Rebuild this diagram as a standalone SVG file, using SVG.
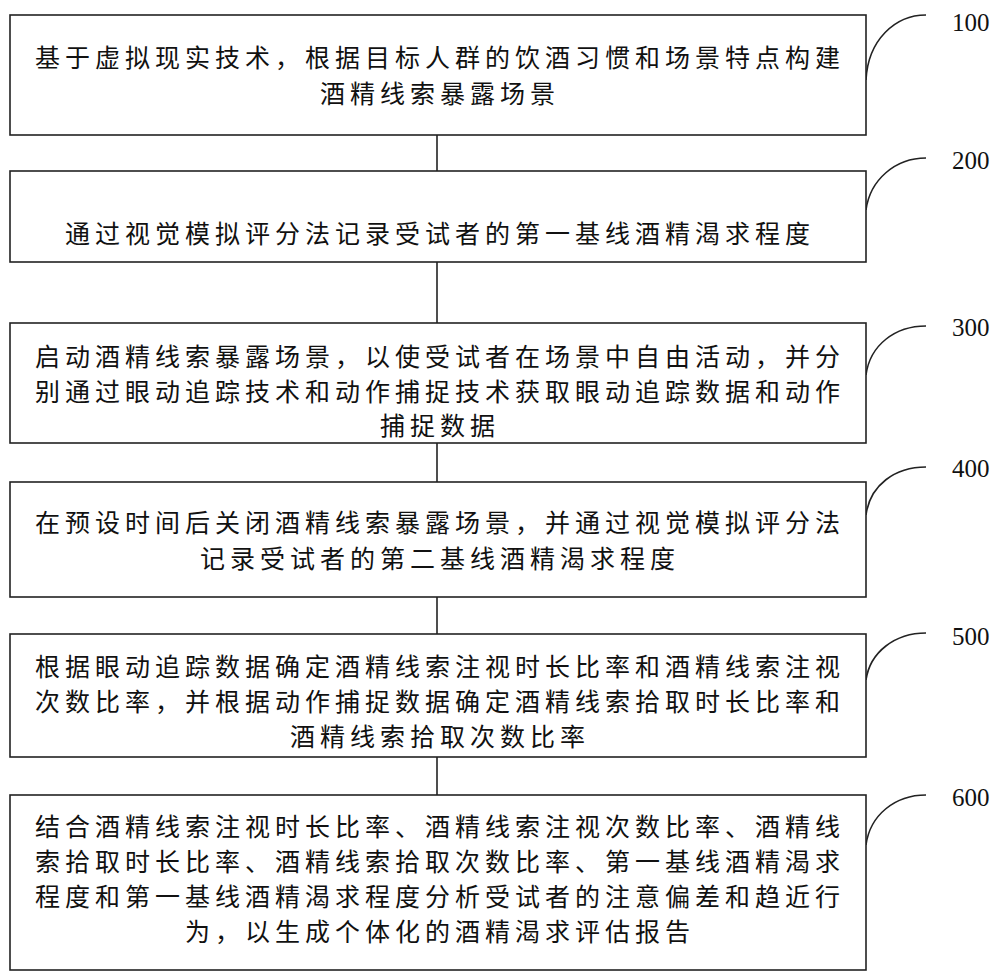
<svg xmlns="http://www.w3.org/2000/svg" width="1000" height="977" viewBox="0 0 1000 977">
<style>
.b{fill:#fff;stroke:#222;stroke-width:1.6}
.t{font-family:"Noto Sans CJK SC",sans-serif;font-size:25px;letter-spacing:5px;fill:#111;text-anchor:middle;dominant-baseline:central}
.n{font-family:"Liberation Serif",serif;font-size:25px;fill:#111;dominant-baseline:central}
.c{fill:none;stroke:#222;stroke-width:1.6}
</style>
<rect width="1000" height="977" fill="#fff"/>
<g id="connectors">
<line class="c" x1="437" y1="135" x2="437" y2="171"/>
<line class="c" x1="437" y1="262" x2="437" y2="323"/>
<line class="c" x1="437" y1="443" x2="437" y2="482"/>
<line class="c" x1="437" y1="597" x2="437" y2="634"/>
<line class="c" x1="437" y1="757" x2="437" y2="795"/>
<path class="c" d="M926,15 C895,15 868,40 866,80"/>
<path class="c" d="M926,158 C895,158 870,180 866,210"/>
<path class="c" d="M926,326 C895,326 870,345 866,375"/>
<path class="c" d="M926,467 C895,467 870,485 866,515"/>
<path class="c" d="M926,633 C895,633 870,652 866,680"/>
<path class="c" d="M926,795 C895,795 870,815 866,845"/>
</g>
<g id="n100"><rect class="b" x="10" y="15" width="856" height="120"/>
<text class="t" x="440" y="56">基于虚拟现实技术，根据目标人群的饮酒习惯和场景特点构建</text>
<text class="t" x="440" y="92">酒精线索暴露场景</text>
<text class="n" x="952" y="22">100</text></g>
<g id="n200"><rect class="b" x="10" y="171" width="856" height="91"/>
<text class="t" x="440" y="232">通过视觉模拟评分法记录受试者的第一基线酒精渴求程度</text>
<text class="n" x="952" y="160">200</text></g>
<g id="n300"><rect class="b" x="10" y="323" width="856" height="120"/>
<text class="t" x="440" y="355">启动酒精线索暴露场景，以使受试者在场景中自由活动，并分</text>
<text class="t" x="440" y="390">别通过眼动追踪技术和动作捕捉技术获取眼动追踪数据和动作</text>
<text class="t" x="440" y="424">捕捉数据</text>
<text class="n" x="952" y="327">300</text></g>
<g id="n400"><rect class="b" x="10" y="482" width="856" height="115"/>
<text class="t" x="440" y="521">在预设时间后关闭酒精线索暴露场景，并通过视觉模拟评分法</text>
<text class="t" x="440" y="557">记录受试者的第二基线酒精渴求程度</text>
<text class="n" x="952" y="468">400</text></g>
<g id="n500"><rect class="b" x="10" y="634" width="856" height="123"/>
<text class="t" x="440" y="665">根据眼动追踪数据确定酒精线索注视时长比率和酒精线索注视</text>
<text class="t" x="440" y="700">次数比率，并根据动作捕捉数据确定酒精线索拾取时长比率和</text>
<text class="t" x="440" y="735">酒精线索拾取次数比率</text>
<text class="n" x="952" y="636">500</text></g>
<g id="n600"><rect class="b" x="10" y="795" width="856" height="175"/>
<text class="t" x="440" y="825">结合酒精线索注视时长比率、酒精线索注视次数比率、酒精线</text>
<text class="t" x="440" y="860">索拾取时长比率、酒精线索拾取次数比率、第一基线酒精渴求</text>
<text class="t" x="440" y="895">程度和第一基线酒精渴求程度分析受试者的注意偏差和趋近行</text>
<text class="t" x="440" y="930">为，以生成个体化的酒精渴求评估报告</text>
<text class="n" x="952" y="797">600</text></g>
</svg>
